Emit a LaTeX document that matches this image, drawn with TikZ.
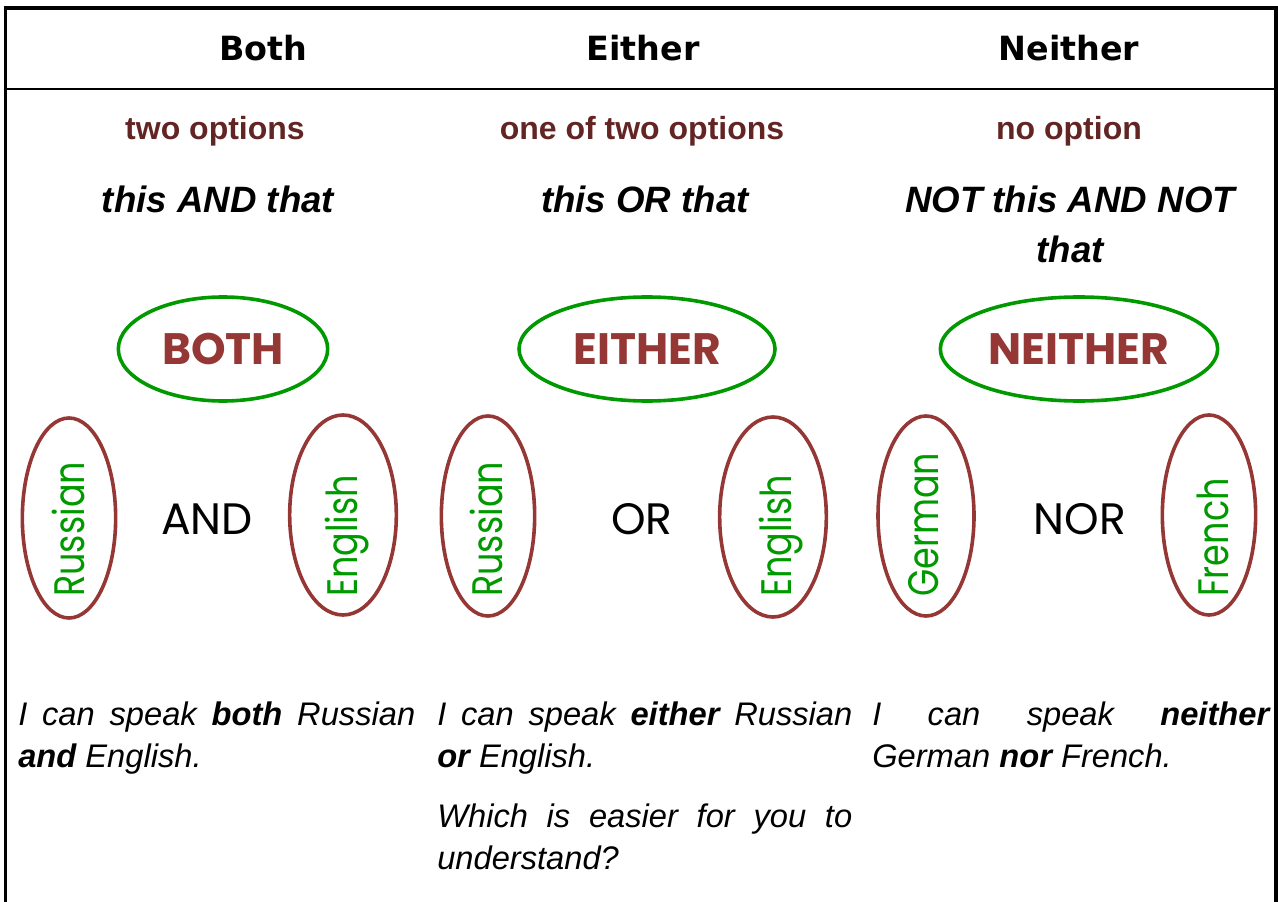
\documentclass[tikz,border=0pt]{standalone}
\usepackage{fontspec}
\setmainfont{Liberation Sans}
\newfontfamily\headfont{DejaVu Sans}
\newfontfamily\comicfont{Poppins}
\newfontfamily\wordfont{Poppins}[FakeStretch=0.82]
\usetikzlibrary{shapes}
\definecolor{optred}{RGB}{99,37,35}
\definecolor{ringred}{RGB}{149,55,53}
\definecolor{ringgreen}{RGB}{0,153,0}
\hyphenpenalty=10000
\tolerance=10000
\hbadness=10000
\tikzset{head/.style={font=\headfont\bfseries\fontsize{25}{30}\selectfont}}
\tikzset{options/.style={anchor=base,text=optred,font=\bfseries\fontsize{24}{29}\selectfont}}
\tikzset{rule/.style={anchor=base,align=center,font=\bfseries\itshape\fontsize{27.5}{37.5}\selectfont}}
\tikzset{ring/.style={ellipse,draw=ringgreen,line width=2.7pt,text=ringred,inner sep=0pt,minimum height=78pt,font=\comicfont\bfseries\fontsize{33}{40}\selectfont}}
\tikzset{lang/.style={ellipse,draw=ringred,line width=2.7pt,minimum width=70pt,minimum height=150pt}}
\tikzset{word/.style={rotate=90,anchor=base west,inner sep=0pt,text=ringgreen,font=\wordfont\fontsize{32}{38}\selectfont}}
\tikzset{conj/.style={font=\comicfont\fontsize{33}{40}\selectfont}}
\tikzset{sentence/.style={anchor=base west,inner sep=0pt,align=justify,font=\itshape\fontsize{24.5}{31.5}\selectfont}}

\begin{document}
\begin{tikzpicture}[x=0.75pt,y=-0.75pt]
    \useasboundingbox (0,0) rectangle (1278,902);

    % table frame and head rule
    \draw[line width=2.6pt] (5.5,902) -- (5.5,8) -- (1276,8) -- (1276,902);
    \draw[line width=1.5pt] (5.5,89.5) -- (1276,89.5);

    \node[head] (hboth) at (263,48) {Both};
    \node[head] (heither) at (643,48) {Either};
    \node[head] (hneither) at (1069,48) {Neither};

    \node[options] (oboth) at (215,140) {two options};
    \node[options] (oeither) at (642,140) {one of two options};
    \node[options] (oneither) at (1069,140) {no option};

    \node[rule] (rboth) at (218,213) {this AND that};
    \node[rule] (reither) at (645,213) {this OR that};
    % base of a two-line node sits on its last line
    \node[rule] (rneither) at (1070,263) {NOT this AND NOT\\that};

    \node[ring,minimum width=157pt] (both) at (223,349) {BOTH};
    \node[ring,minimum width=192pt] (either) at (647,349) {EITHER};
    \node[ring,minimum width=208pt] (neither) at (1079,349) {NEITHER};

    % language rings with their words
    \node[lang] (ru1) at (69,518) {};
    \node[lang,minimum width=80pt] (en1) at (343,515) {};
    \node[lang] (ru2) at (488,516) {};
    \node[lang,minimum width=80pt] (en2) at (773,517) {};
    \node[lang,minimum width=72pt] (de) at (926,516) {};
    \node[lang] (fr) at (1209,515) {};

    \node[word] (tru1) at (84,597) {Russian};
    \node[word] (ten1) at (357,597) {English};
    \node[word] (tru2) at (502,597) {Russian};
    \node[word] (ten2) at (791,597) {English};
    \node[word] (tde) at (938,597) {German};
    \node[word] (tfr) at (1228,597) {French};

    \node[conj] (and) at (207,519) {AND};
    \node[conj] (or) at (642,519) {OR};
    \node[conj] (nor) at (1080,519) {NOR};

    \node[sentence,text width=297.75pt] (sboth) at (18,725)
        {I can speak \textbf{both} Russian \textbf{and} English.};
    \node[sentence,text width=311.25pt] (seither) at (437,725)
        {I can speak \textbf{either} Russian \textbf{or} English.\par\vspace{13.5pt}Which is easier for you to understand?};
    \node[sentence,text width=297.75pt] (sneither) at (872,725)
        {I can speak \textbf{neither} German \textbf{nor} French.};
\end{tikzpicture}
\end{document}
